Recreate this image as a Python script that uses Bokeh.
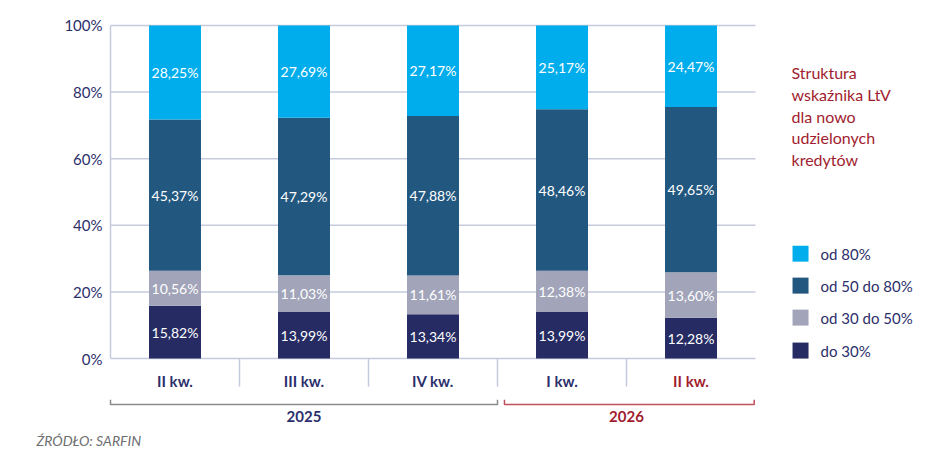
from bokeh.plotting import figure
from bokeh.models import Range1d
from bokeh.core.properties import value
from bokeh.embed import file_html
from bokeh.resources import INLINE

# data
quarters = ["II kw.", "III kw.", "IV kw.", "I kw.", "II kw."]
years = ["2025", "2026"]
do_30 = [15.82, 13.99, 13.34, 13.99, 12.28]
od_30_50 = [10.56, 11.03, 11.61, 12.38, 13.60]
od_50_80 = [45.37, 47.29, 47.88, 48.46, 49.65]
od_80 = [28.25, 27.69, 27.17, 25.17, 24.47]
series_names = ["od 80%", "od 50 do 80%", "od 30 do 50%", "do 30%"]
y_ticks = [0, 20, 40, 60, 80, 100]
legend_title = ["Struktura", "wskaźnika LtV", "dla nowo", "udzielonych", "kredytów"]
source_text = "ŹRÓDŁO: SARFIN"

colors = {"do 30%": "#262b63", "od 30 do 50%": "#a2a5b9",
          "od 50 do 80%": "#22577f", "od 80%": "#00adec"}
navy = "#2b2f6b"
red = "#a11d2e"
grid_c = "#c6cadd"
font = "Lato"

# the frame covers the whole canvas, so every text can be drawn as a glyph
p = figure(width=940, height=449, output_backend="svg", toolbar_location=None,
           x_range=Range1d(-0.8527, 6.434), y_range=Range1d(-27.3, 107.5),
           min_border=0)
p.outline_line_color = None
p.axis.visible = False
p.grid.visible = False

# y axis: line, grid lines, tick labels
p.segment(x0=0, x1=0, y0=0, y1=100, line_color=grid_c, line_width=1.5)
p.segment(x0=0, x1=5, y0=y_ticks, y1=y_ticks, line_color=grid_c, line_width=1.5)
p.text(x=-0.062, y=y_ticks, text=[f"{t}%" for t in y_ticks], text_color=navy,
       text_font=value(font), text_font_size="15px", text_align="right", text_baseline="middle")

# category separators
p.segment(x0=[1, 2, 3, 4], x1=[1, 2, 3, 4], y0=0, y1=-8.4, line_color=grid_c, line_width=1.5)

# stacked bars
xs = [i + 0.5 for i in range(len(quarters))]
stack = [("do 30%", do_30), ("od 30 do 50%", od_30_50), ("od 50 do 80%", od_50_80), ("od 80%", od_80)]
bottom = [0.0] * len(xs)
for name, vals in stack:
    top = [b + v for b, v in zip(bottom, vals)]
    p.vbar(x=xs, bottom=bottom, top=top, width=0.403, fill_color=colors[name], line_color=None)
    mids = [(b + t) / 2 for b, t in zip(bottom, top)]
    labels = [f"{v:.2f}%".replace(".", ",") for v in vals]
    p.text(x=xs, y=mids, text=labels, text_color="white", text_font=value(font),
           text_font_size="14px", text_align="center", text_baseline="middle")
    bottom = top

# category labels
cat_colors = [navy, navy, navy, navy, red]
p.text(x=xs, y=[-6.8] * 5, text=quarters, text_color=cat_colors, text_font=value(font),
       text_font_size="15px", text_font_style="bold", text_align="center", text_baseline="middle")

# year brackets
p.multi_line(xs=[[0, 0, 3, 3], [3.054, 3.054, 4.99, 4.99]],
             ys=[[-12.4, -13.8, -13.8, -12.4], [-12.4, -13.8, -13.8, -12.4]],
             line_color=["#8a8a8a", "#c0505c"], line_width=1.5)
p.text(x=[1.5, 4.0], y=[-17.4, -17.4], text=years, text_color=[navy, red], text_font=value(font),
       text_font_size="15px", text_font_style="bold", text_align="center", text_baseline="middle")

# legend title
p.text(x=5.279, y=[85.8 - 6.5 * i for i in range(len(legend_title))], text=legend_title,
       text_color=red, text_font=value(font), text_font_size="16px",
       text_align="left", text_baseline="middle")

# legend
leg_y = [31.5, 21.9, 12.3, 2.4]
p.scatter(x=5.349, y=leg_y, marker="square", size=16, line_color=None,
          fill_color=[colors[n] for n in series_names])
p.text(x=5.504, y=leg_y, text=series_names, text_color=navy, text_font=value(font),
       text_font_size="15px", text_align="left", text_baseline="middle")

# source
p.text(x=-0.574, y=-24.6, text=[source_text], text_color="#6d6e71", text_font=value(font),
       text_font_size="14px", text_font_style="italic", text_align="left", text_baseline="middle")

open("out.html", "w").write(file_html(p, INLINE))
